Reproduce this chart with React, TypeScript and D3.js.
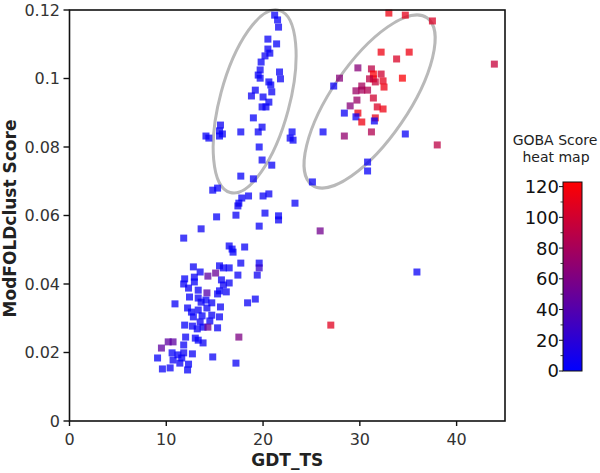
import React from "react";
import * as d3 from "d3";

// GDT_TS (x), ModFOLDclust score (y), GOBA score (colour)
const gdt = [
  21.2, 21.5, 21.6, 20.5, 21.4, 20.5, 20.7, 20.2, 19.8, 19.7, 19.5, 19.7, 21.7, 21.8, 20.6, 20.8, 20.9, 19.2, 18.8, 20.0,
  20.6, 19.9, 20.3, 19.0, 19.9, 19.5, 15.6, 15.5, 15.8, 15.5, 14.1, 14.4, 17.7, 23.0, 22.8, 23.1, 19.6, 19.9, 20.9, 17.7,
  19.0, 14.8, 15.3, 17.8, 18.5, 17.5, 17.4, 20.0, 20.6, 23.3, 15.2, 17.2, 20.2, 21.6, 21.6, 19.6, 13.6, 25.1, 30.8, 30.8,
  25.9, 11.8, 16.5, 16.9, 18.1, 17.7, 19.6, 19.6, 19.4, 17.4, 16.5, 15.5, 15.9, 15.1, 14.3, 13.5, 12.8, 11.9, 11.8, 12.9,
  12.9, 15.7, 15.9, 16.5, 15.5, 16.2, 15.3, 14.2, 13.3, 12.3, 12.4, 13.3, 13.6, 14.7, 14.1, 10.9, 18.4, 19.2, 16.8, 12.2,
  15.6, 12.6, 13.3, 14.2, 12.8, 13.7, 14.7, 15.5, 13.5, 14.5, 11.9, 12.7, 13.2, 13.8, 14.3, 15.3, 12.0, 13.0, 13.3, 13.8,
  10.2, 10.7, 11.8, 9.5, 10.6, 11.8, 12.7, 9.1, 11.6, 10.7, 11.4, 12.3, 10.4, 9.6, 12.2, 14.8, 17.2, 17.5, 11.2, 35.9,
  27.0,
  33.0, 34.7, 37.5, 32.2, 35.1, 33.8, 29.8, 31.2, 27.9, 31.4, 32.2, 34.4, 31.4, 31.0, 31.6, 32.4, 32.5, 30.2, 29.6, 30.2,
  30.8, 27.3, 31.4, 29.7, 29.0, 31.8, 32.4, 28.4, 29.8, 29.6, 31.6, 30.2, 31.5, 26.2, 28.4, 31.2, 34.7, 38.0, 43.9,
];
const modfold = [
  0.1185, 0.1171, 0.115, 0.1115, 0.1101, 0.1086, 0.1074, 0.1066, 0.1048, 0.1025, 0.101, 0.1001, 0.1019, 0.0999, 0.099, 0.0981, 0.0961, 0.0966, 0.0949, 0.0946,
  0.0931, 0.0917, 0.0917, 0.0885, 0.0858, 0.0844, 0.0864, 0.0847, 0.0838, 0.0832, 0.0832, 0.0826, 0.0844, 0.0844, 0.0826, 0.082, 0.08, 0.0762, 0.0747, 0.0715,
  0.0707, 0.0674, 0.068, 0.0651, 0.0657, 0.0636, 0.0628, 0.0657, 0.0663, 0.0636, 0.0596, 0.0601, 0.0607, 0.0599, 0.0587, 0.0569, 0.0561, 0.0698, 0.0756, 0.073,
  0.0555, 0.0534, 0.0511, 0.0493, 0.0508, 0.0461, 0.0461, 0.0447, 0.0426, 0.0426, 0.0447, 0.0453, 0.0447, 0.0432, 0.0423, 0.0435, 0.045, 0.0415, 0.04, 0.042,
  0.0406, 0.0412, 0.0397, 0.0403, 0.038, 0.0377, 0.0371, 0.0374, 0.0382, 0.0388, 0.0362, 0.0359, 0.0347, 0.0345, 0.0353, 0.0342, 0.0345, 0.0356, 0.0502, 0.033,
  0.0333, 0.0318, 0.0324, 0.033, 0.0304, 0.0307, 0.0309, 0.0304, 0.0289, 0.0292, 0.028, 0.0277, 0.0269, 0.0274, 0.0274, 0.0272, 0.0245, 0.0242, 0.0236, 0.0228,
  0.0231, 0.0231, 0.0222, 0.0213, 0.0199, 0.0199, 0.0196, 0.0184, 0.0184, 0.0178, 0.0169, 0.0166, 0.0155, 0.0152, 0.0149, 0.0187, 0.0169, 0.0245, 0.0193, 0.0435,
  0.028,
  0.1191, 0.1185, 0.1168, 0.1077, 0.1077, 0.1057, 0.1031, 0.1028, 0.1001, 0.1013, 0.1013, 0.1001, 0.0999, 0.0999, 0.099, 0.0993, 0.0975, 0.0978, 0.0964, 0.0966,
  0.0966, 0.0978, 0.0943, 0.0937, 0.092, 0.0917, 0.0911, 0.0899, 0.0899, 0.0888, 0.0885, 0.0873, 0.0876, 0.0844, 0.0832, 0.0844, 0.0838, 0.0806, 0.1042,
];
const goba = [
  4, 3, 5, 4, 3, 5, 4, 6, 3, 5, 4, 3, 4, 5, 4, 3, 5, 4, 6, 4,
  3, 5, 4, 3, 5, 4, 6, 4, 5, 3, 4, 5, 4, 3, 5, 4, 3, 5, 4, 3,
  5, 4, 3, 5, 4, 3, 6, 4, 5, 4, 3, 5, 4, 3, 5, 4, 6, 4, 5, 3,
  55, 4, 5, 3, 4, 5, 4, 25, 6, 4, 3, 5, 4, 50, 45, 4, 5, 3, 4, 5,
  3, 4, 6, 4, 3, 5, 4, 40, 4, 5, 3, 4, 5, 4, 3, 4, 5, 4, 3, 4,
  5, 3, 4, 5, 4, 3, 5, 4, 6, 4, 3, 5, 4, 3, 50, 4, 5, 4, 3, 5,
  45, 45, 4, 45, 3, 5, 4, 3, 4, 5, 4, 3, 5, 4, 3, 4, 5, 60, 4, 4,
  108,
  115, 110, 105, 115, 115, 105, 65, 90, 65, 120, 100, 120, 115, 90, 95, 110, 115, 80, 75, 80,
  85, 5, 100, 75, 65, 105, 115, 5, 115, 5, 110, 115, 5, 4, 70, 85, 4, 90, 95,
];

const xTicks = [0, 10, 20, 30, 40];
const yTicks = [0, 0.02, 0.04, 0.06, 0.08, 0.1, 0.12];
const yTickLabels = ["0", "0.02", "0.04", "0.06", "0.08", "0.1", "0.12"];
const cbTicks = [0, 20, 40, 60, 80, 100, 120];
const cbMinor = [10, 30, 50, 70, 90, 110];

// annotation ellipses: centre in data units
const ellCx = [19.13, 31.01];
const ellCy = [0.0933, 0.0933];
const ellRx = [34.7, 38.4];
const ellRy = [94.3, 101.5];
const ellRot = [15, 34.4];

const W = 600, H = 473;
const L = 69.5, R = 505, T = 10, B = 421;
const FONT = "DejaVu Sans, sans-serif";

export default function App() {
  const x = d3.scaleLinear().domain([0, 45]).range([L, R]);
  const y = d3.scaleLinear().domain([0, 0.12]).range([B, T]);
  const cmax = 123;
  const colour = d3.scaleLinear<string>().domain([0, cmax]).range(["#0000ff", "#ff0000"]).interpolate(d3.interpolateRgb);
  const cbX = 563, cbW = 19, cbTop = 182, cbBot = 371;
  const cy = d3.scaleLinear().domain([0, cmax]).range([cbBot, cbTop]);
  const sz = 7;
  const pts = gdt.map((g, i) => ({ g, m: modfold[i], c: goba[i] }));

  return (
    <svg width={W} height={H} style={{ position: "absolute", left: 0, top: 0, background: "#fff" }} fontFamily={FONT}>
      <defs>
        <linearGradient id="cb" x1="0" y1="1" x2="0" y2="0">
          <stop offset="0%" stopColor={colour(0)} />
          <stop offset="50%" stopColor={colour(cmax / 2)} />
          <stop offset="100%" stopColor={colour(cmax)} />
        </linearGradient>
      </defs>
      <rect x={0} y={0} width={W} height={H} fill="#fff" />
      {ellCx.map((c, i) => (
        <ellipse
          key={"e" + i}
          cx={0}
          cy={0}
          rx={ellRx[i]}
          ry={ellRy[i]}
          transform={`translate(${x(c)},${y(ellCy[i])}) rotate(${ellRot[i]})`}
          fill="none"
          stroke="#b9b9b9"
          strokeWidth={3}
        />
      ))}
      {pts.map((p, i) => (
        <rect
          key={i}
          x={x(p.g) - sz / 2}
          y={y(p.m) - sz / 2}
          width={sz}
          height={sz}
          fill={colour(p.c)}
          fillOpacity={0.75}
        />
      ))}
      {/* frame */}
      <rect x={L} y={T} width={R - L} height={B - T} fill="none" stroke="#111" strokeWidth={1.6} />
      {xTicks.map((t) => (
        <g key={"x" + t}>
          <line x1={x(t)} x2={x(t)} y1={B} y2={B + 5} stroke="#111" strokeWidth={1.4} />
          <text x={x(t)} y={445} textAnchor="middle" fontSize={16} fill="#333">{t}</text>
        </g>
      ))}
      {yTicks.map((t, i) => (
        <g key={"y" + t}>
          <line x1={L - 6} x2={L} y1={y(t)} y2={y(t)} stroke="#111" strokeWidth={1.4} />
          <text x={60} y={y(t)} dy="0.36em" textAnchor="end" fontSize={16} fill="#333">{yTickLabels[i]}</text>
        </g>
      ))}
      <text x={(L + R) / 2} y={466} textAnchor="middle" fontSize={17} fontWeight="bold" fill="#222">GDT_TS</text>
      <text transform={`translate(16,${(T + B) / 2 + 3}) rotate(-90)`} textAnchor="middle" fontSize={17} fontWeight="bold" fill="#222">ModFOLDclust Score</text>
      {/* colour bar */}
      <text x={555} y={145} textAnchor="middle" fontSize={14} fill="#222">GOBA Score</text>
      <text x={556} y={162} textAnchor="middle" fontSize={14} fill="#222">heat map</text>
      <rect x={cbX} y={cbTop} width={cbW} height={cbBot - cbTop} fill="url(#cb)" stroke="#111" strokeWidth={1} />
      {cbTicks.map((t) => (
        <g key={"c" + t}>
          <line x1={cbX - 4} x2={cbX} y1={cy(t)} y2={cy(t)} stroke="#111" strokeWidth={1} />
          <text x={cbX - 4} y={cy(t)} dy="0.36em" textAnchor="end" fontSize={18} fill="#111">{t}</text>
        </g>
      ))}
      {cbMinor.map((t) => (
        <line key={"cm" + t} x1={cbX - 2.5} x2={cbX} y1={cy(t)} y2={cy(t)} stroke="#111" strokeWidth={0.8} />
      ))}
    </svg>
  );
}
